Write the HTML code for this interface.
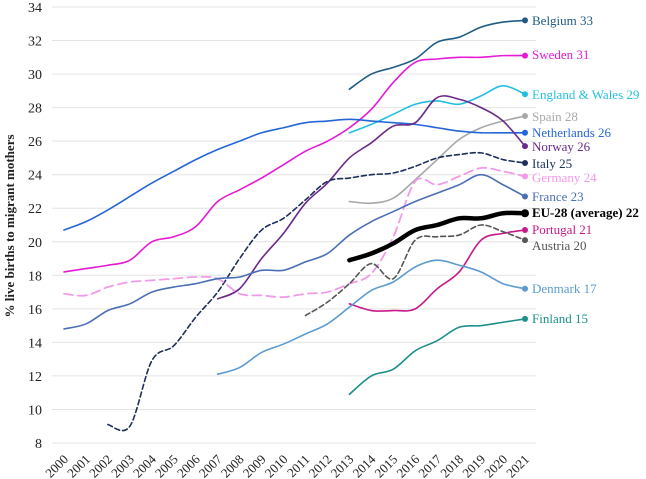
<!DOCTYPE html>
<html><head><meta charset="utf-8"><style>
body{margin:0;background:#fff;}
svg{display:block;font-family:"Liberation Serif",serif;}
</style></head><body>
<svg id="chart" width="646" height="479" viewBox="0 0 646 479"></svg>
<script>
const years=[2000,2001,2002,2003,2004,2005,2006,2007,2008,2009,2010,2011,2012,2013,2014,2015,2016,2017,2018,2019,2020,2021];
const yTicks=[8,10,12,14,16,18,20,22,24,26,28,30,32,34];
const netherlands=[20.7,21.2,21.9,22.7,23.5,24.2,24.9,25.5,26.0,26.5,26.8,27.1,27.2,27.3,27.2,27.1,27.0,26.8,26.6,26.5,26.5,26.5];
const sweden=[18.2,18.4,18.6,18.9,20.0,20.3,20.9,22.4,23.1,23.8,24.6,25.4,26.0,26.8,27.9,29.5,30.7,30.9,31.0,31.0,31.1,31.1];
const germany=[16.9,16.8,17.3,17.6,17.7,17.8,17.9,17.8,16.9,16.8,16.7,16.9,17.0,17.5,18.1,20.3,23.6,23.4,23.9,24.4,24.2,23.9];
const france=[14.8,15.1,15.9,16.3,17.0,17.3,17.5,17.8,17.9,18.3,18.3,18.8,19.3,20.4,21.2,21.8,22.4,22.9,23.4,24.0,23.4,22.7];
const italy=[null,null,9.1,9.0,12.9,13.8,15.5,17.0,19.0,20.7,21.4,22.5,23.6,23.8,24.0,24.1,24.5,25.0,25.2,25.3,24.9,24.7];
const norway=[null,null,null,null,null,null,null,16.6,17.2,19.0,20.5,22.3,23.5,25.0,25.9,26.9,27.1,28.6,28.5,28.0,27.2,25.7];
const denmark=[null,null,null,null,null,null,null,12.1,12.5,13.4,13.9,14.5,15.1,16.1,17.1,17.6,18.5,18.9,18.6,18.2,17.5,17.2];
const austria=[null,null,null,null,null,null,null,null,null,null,null,15.6,16.4,17.5,18.7,17.8,20.1,20.3,20.4,21.0,20.6,20.1];
const belgium=[null,null,null,null,null,null,null,null,null,null,null,null,null,29.1,30.0,30.4,30.9,31.9,32.2,32.8,33.1,33.2];
const englandWales=[null,null,null,null,null,null,null,null,null,null,null,null,null,26.5,27.0,27.6,28.2,28.4,28.2,28.7,29.3,28.8];
const spain=[null,null,null,null,null,null,null,null,null,null,null,null,null,22.4,22.3,22.6,23.7,24.9,26.1,26.8,27.2,27.5];
const eu28=[null,null,null,null,null,null,null,null,null,null,null,null,null,18.9,19.3,19.9,20.7,21.0,21.4,21.4,21.7,21.7];
const portugal=[null,null,null,null,null,null,null,null,null,null,null,null,null,16.3,15.9,15.9,16.0,17.2,18.2,20.1,20.5,20.7];
const finland=[null,null,null,null,null,null,null,null,null,null,null,null,null,10.9,12.0,12.4,13.5,14.1,14.9,15.0,15.2,15.4];
const labels=["Belgium 33","Sweden 31","England & Wales 29","Spain 28","Netherlands 26","Norway 26","Italy 25","Germany 24","France 23","EU-28 (average) 22","Portugal 21","Austria 20","Denmark 17","Finland 15"];

const series=[
 {n:'belgium',d:belgium,c:'#1f5b85',w:1.6,dash:null,ly:20},
 {n:'sweden',d:sweden,c:'#e619d6',w:1.6,dash:null,ly:54},
 {n:'england-wales',d:englandWales,c:'#22bfe0',w:1.6,dash:null,ly:94},
 {n:'spain',d:spain,c:'#a8a8a8',w:1.6,dash:null,ly:116},
 {n:'netherlands',d:netherlands,c:'#2566d6',w:1.6,dash:null,ly:132},
 {n:'norway',d:norway,c:'#6a2a8a',w:1.6,dash:null,ly:146},
 {n:'italy',d:italy,c:'#1b2f5a',w:1.6,dash:'5,3',ly:163},
 {n:'germany',d:germany,c:'#f29ae8',w:1.8,dash:'9,5',ly:177},
 {n:'france',d:france,c:'#4a6fb5',w:1.6,dash:null,ly:196},
 {n:'eu-28',d:eu28,c:'#000',w:4.5,dash:null,ly:212,bold:true},
 {n:'portugal',d:portugal,c:'#c8198a',w:1.6,dash:null,ly:229},
 {n:'austria',d:austria,c:'#555',w:1.6,dash:'5,3',ly:245},
 {n:'denmark',d:denmark,c:'#5b9bd0',w:1.6,dash:null,ly:288},
 {n:'finland',d:finland,c:'#1a9088',w:1.6,dash:null,ly:318}
];
const X0=64,X1=525,Y0=443,Y1=7,XMIN=2000,XMAX=2021,YMIN=8,YMAX=34;
const xs=v=>X0+(v-XMIN)/(XMAX-XMIN)*(X1-X0);
const ys=v=>Y0-(v-YMIN)/(YMAX-YMIN)*(Y0-Y1);
const svg=document.getElementById('chart');
const NS='http://www.w3.org/2000/svg';
function mk(t,a){const e=document.createElementNS(NS,t);for(const k in a)e.setAttribute(k,a[k]);svg.appendChild(e);return e;}
yTicks.forEach(t=>{
 const g=mk('line',{x1:52,x2:536,y1:ys(t),y2:ys(t),stroke:'#e4e4e4','stroke-width':1});
 
 
 const l=mk('text',{x:42,y:ys(t)+5,'text-anchor':'end','font-size':14,fill:'#222'});
 l.textContent=t;
 
 
});
years.forEach(yr=>{
 const x=xs(yr);
 const l=mk('text',{x:x+5,y:460,'text-anchor':'end','font-size':13,fill:'#222',transform:`rotate(-45 ${x+5} 460)`});
 l.textContent=yr;
 
 
});
const yt=mk('text',{x:0,y:0,'text-anchor':'middle','font-size':13,'font-weight':'bold',fill:'#222',transform:'translate(14 226) rotate(-90)'});
yt.textContent='% live births to migrant mothers';


function pathFor(pts){
 let d=`M${pts[0][0]},${pts[0][1]}`;
 for(let i=0;i<pts.length-1;i++){
  const p0=pts[i-1]||pts[i],p1=pts[i],p2=pts[i+1],p3=pts[i+2]||p2;
  const c1=[p1[0]+(p2[0]-p0[0])/6,p1[1]+(p2[1]-p0[1])/6];
  const c2=[p2[0]-(p3[0]-p1[0])/6,p2[1]-(p3[1]-p1[1])/6];
  d+=` C${c1[0]},${c1[1]} ${c2[0]},${c2[1]} ${p2[0]},${p2[1]}`;
 }
 return d;
}
series.forEach((s,i)=>{
 const pts=[];
 s.d.forEach((v,j)=>{if(v!==null)pts.push([xs(years[j]),ys(v)]);});
 const a={d:pathFor(pts),fill:'none',stroke:s.c,'stroke-width':s.w,'stroke-linecap':'round'};
 if(s.dash)a['stroke-dasharray']=s.dash;
 const p=mk('path',a);
 
 
 const last=pts[pts.length-1];
 const m=mk('circle',{cx:last[0],cy:last[1],r:s.bold?4:3,fill:s.c});
 
 
 const t=mk('text',{x:532,y:s.ly+5,'font-size':13,fill:s.c,'font-weight':s.bold?'bold':'normal'});
 t.textContent=labels[i];
 
 
});
</script>
</body></html>
